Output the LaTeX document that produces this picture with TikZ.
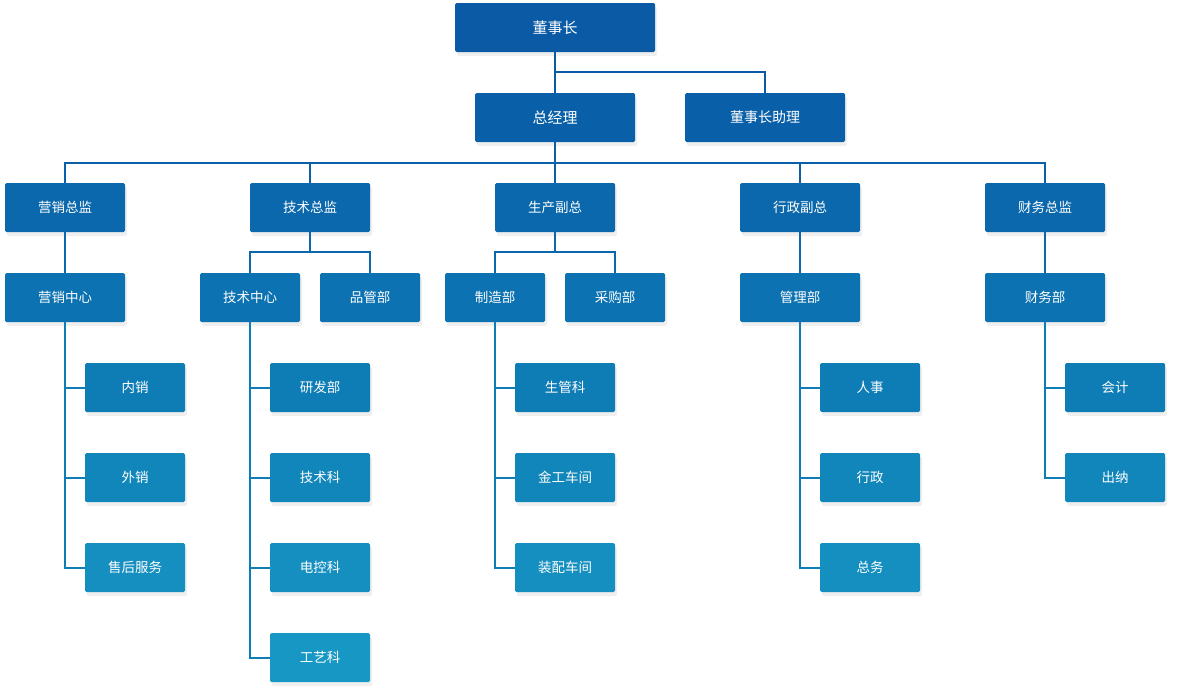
\documentclass[tikz,border=0pt]{standalone}
\usepackage{fontspec}
\setmainfont{Noto Sans CJK SC}
\usepackage{tikz}
\usetikzlibrary{shadows}

\definecolor{lv0}{HTML}{0A5AA5}
\definecolor{lv1}{HTML}{0A60A8}
\definecolor{lv2}{HTML}{0B68AC}
\definecolor{lv3}{HTML}{0C72B1}
\definecolor{lv4}{HTML}{0E7DB6}
\definecolor{lv5}{HTML}{1186BB}
\definecolor{lv6}{HTML}{148FC0}
\definecolor{lv7}{HTML}{1797C4}

\begin{document}
\begin{tikzpicture}[x=1pt,y=-1pt,
	box/.style={draw=none,text=white,rounded corners=1.5pt,inner sep=0pt,minimum width=100pt,minimum height=49pt,font=\fontsize{13.5}{16}\selectfont,drop shadow={opacity=0.13,shadow xshift=2pt,shadow yshift=-4pt}},
	wide/.style={minimum width=120pt},
	line/.style={line width=2pt}]
	\useasboundingbox (0,0) rectangle (1179,699);
%	\draw[gray!30,step=50] (0,0) grid (1179,699);

	% top
	\node[box,fill=lv0,minimum width=200pt,font=\fontsize{15}{18}\selectfont] (dsz) at (555,27.5) {董事长};
	\node[box,fill=lv1,minimum width=160pt,font=\fontsize{15}{18}\selectfont] (zjl) at (555,117.5) {总经理};
	\node[box,fill=lv1,minimum width=160pt,font=\fontsize{14}{17}\selectfont] (zl) at (765,117.5) {董事长助理};

	% level 2
	\node[box,wide,fill=lv2] (yxzj) at (65,207.5) {营销总监};
	\node[box,wide,fill=lv2] (jszj) at (310,207.5) {技术总监};
	\node[box,wide,fill=lv2] (scfz) at (555,207.5) {生产副总};
	\node[box,wide,fill=lv2] (xzfz) at (800,207.5) {行政副总};
	\node[box,wide,fill=lv2] (cwzj) at (1045,207.5) {财务总监};

	% level 3
	\node[box,wide,fill=lv3] (yxzx) at (65,297.5) {营销中心};
	\node[box,fill=lv3] (jszx) at (250,297.5) {技术中心};
	\node[box,fill=lv3] (pgb) at (370,297.5) {品管部};
	\node[box,fill=lv3] (zzb) at (495,297.5) {制造部};
	\node[box,fill=lv3] (cgb) at (615,297.5) {采购部};
	\node[box,wide,fill=lv3] (glb) at (800,297.5) {管理部};
	\node[box,wide,fill=lv3] (cwb) at (1045,297.5) {财务部};

	% departments
	\node[box,fill=lv4] (nx) at (135,387.5) {内销};
	\node[box,fill=lv5] (wx) at (135,477.5) {外销};
	\node[box,fill=lv6] (shfw) at (135,567.5) {售后服务};
	\node[box,fill=lv4] (yfb) at (320,387.5) {研发部};
	\node[box,fill=lv5] (jsk) at (320,477.5) {技术科};
	\node[box,fill=lv6] (dkk) at (320,567.5) {电控科};
	\node[box,fill=lv7] (gyk) at (320,657.5) {工艺科};
	\node[box,fill=lv4] (sgk) at (565,387.5) {生管科};
	\node[box,fill=lv5] (jgcj) at (565,477.5) {金工车间};
	\node[box,fill=lv6] (zpcj) at (565,567.5) {装配车间};
	\node[box,fill=lv4] (rs) at (870,387.5) {人事};
	\node[box,fill=lv5] (xz) at (870,477.5) {行政};
	\node[box,fill=lv6] (zw) at (870,567.5) {总务};
	\node[box,fill=lv4] (kj) at (1115,387.5) {会计};
	\node[box,fill=lv5] (cn) at (1115,477.5) {出纳};

	% connectors
	\draw[line,lv0] (dsz.south) -- (zjl.north);
	\draw[line,lv0] (dsz.south) -- ++(0,20) -| (zl.north);
	\foreach \c in {yxzj,jszj,scfz,xzfz,cwzj}
		\draw[line,lv1] (zjl.south) -- ++(0,21) -| (\c.north);
	\draw[line,lv2] (yxzj.south) -- (yxzx.north);
	\foreach \c in {jszx,pgb}
		\draw[line,lv2] (jszj.south) -- ++(0,20) -| (\c.north);
	\foreach \c in {zzb,cgb}
		\draw[line,lv2] (scfz.south) -- ++(0,20) -| (\c.north);
	\draw[line,lv2] (xzfz.south) -- (glb.north);
	\draw[line,lv2] (cwzj.south) -- (cwb.north);
	\foreach \c in {nx,wx,shfw}
		\draw[line,lv4] (yxzx.south) |- (\c.west);
	\foreach \c in {yfb,jsk,dkk,gyk}
		\draw[line,lv4] (jszx.south) |- (\c.west);
	\foreach \c in {sgk,jgcj,zpcj}
		\draw[line,lv4] (zzb.south) |- (\c.west);
	\foreach \c in {rs,xz,zw}
		\draw[line,lv4] (glb.south) |- (\c.west);
	\foreach \c in {kj,cn}
		\draw[line,lv4] (cwb.south) |- (\c.west);

\end{tikzpicture}
\end{document}
